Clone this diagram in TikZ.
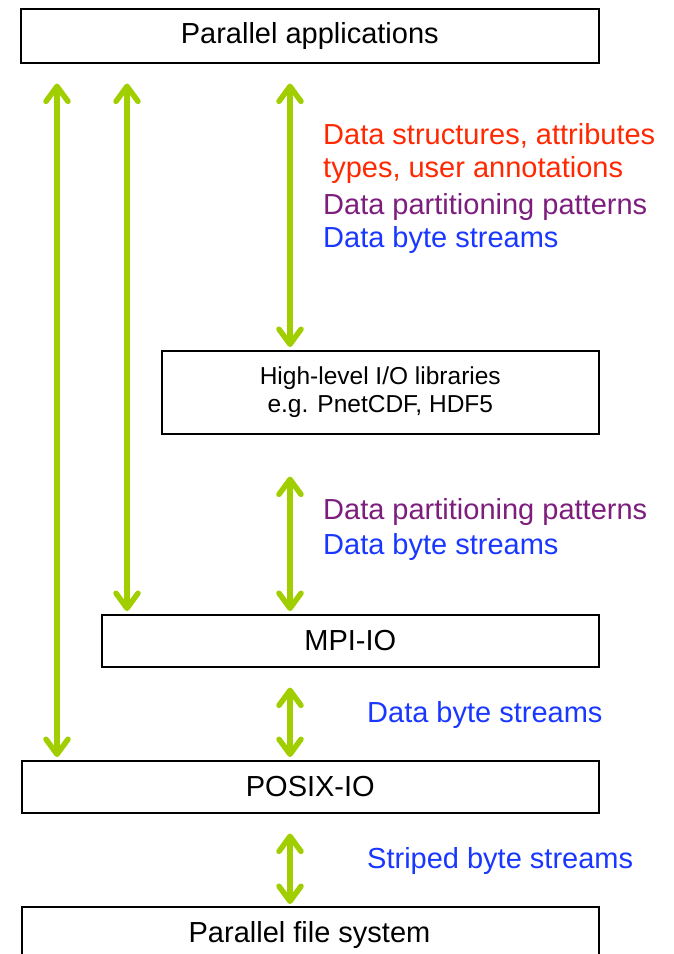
\documentclass[tikz,border=0pt]{standalone}
\usepackage{fontspec}
\setmainfont{Liberation Sans}
\usetikzlibrary{arrows.meta,positioning}
\definecolor{arrgreen}{RGB}{160,206,0}
\definecolor{lblred}{RGB}{255,40,0}
\definecolor{lblpurple}{RGB}{125,30,125}
\definecolor{lblblue}{RGB}{25,55,255}
\tikzset{
  layerbox/.style={draw=black,line width=1.6pt,fill=white,inner sep=0pt,anchor=north west,font=\fontsize{29}{34}\selectfont},
  arr/.style={draw=arrgreen,line width=5.5pt,{Straight Barb[length=15pt,width=22pt,line cap=round,line join=round]}-{Straight Barb[length=15pt,width=22pt,line cap=round,line join=round]}},
  lbl/.style={anchor=west,inner sep=0pt,font=\fontsize{29}{34}\selectfont,align=left}
}
\begin{document}
\begin{tikzpicture}[x=1pt,y=-1pt]
\useasboundingbox (0,0) rectangle (673,954);
\clip (0,0) rectangle (673,954);
\node[layerbox,minimum width=578pt,minimum height=54pt] (apps) at (20,8) {Parallel applications};
\node[layerbox,minimum width=437pt,minimum height=83pt,font=\fontsize{24.5}{28}\selectfont,align=center] (hl) at (161,350) {High-level I/O libraries\\e.g. PnetCDF, HDF5};
\node[layerbox,minimum width=497pt,minimum height=52pt] (mpi) at (101,614) {MPI-IO};
\node[layerbox,minimum width=577pt,minimum height=52pt] (posix) at (21,760) {POSIX-IO};
\node[layerbox,minimum width=577pt,minimum height=80pt,text depth=0pt] (pfs) at (21,906) {};
\node[font=\fontsize{29}{34}\selectfont,inner sep=0pt] (pfst) at (309.5,935) {Parallel file system};
\coordinate (c1) at (57,0);
\coordinate (c2) at (127,0);
\coordinate (c3) at (290,0);
\draw[arr,shorten <=20pt,shorten >=3pt] (apps.south -| c1) -- (posix.north -| c1);
\draw[arr,shorten <=20pt,shorten >=3pt] (apps.south -| c2) -- (mpi.north -| c2);
\draw[arr,shorten <=20pt,shorten >=3pt] (apps.south -| c3) -- (hl.north -| c3);
\draw[arr,shorten <=42pt,shorten >=3pt] (hl.south -| c3) -- (mpi.north -| c3);
\draw[arr,shorten <=20pt,shorten >=3pt] (mpi.south -| c3) -- (posix.north -| c3);
\draw[arr,shorten <=20pt,shorten >=2pt] (posix.south -| c3) -- (pfs.north -| c3);
\node[lbl,text=lblred] (l1) at (323,136) {Data structures, attributes};
\node[lbl,text=lblred] (l2) at (323,170) {types, user annotations};
\node[lbl,text=lblpurple] (l3) at (323,207) {Data partitioning patterns};
\node[lbl,text=lblblue] (l4) at (323,240) {Data byte streams};
\node[lbl,text=lblpurple] (l5) at (323,512) {Data partitioning patterns};
\node[lbl,text=lblblue] (l6) at (323,547) {Data byte streams};
\node[lbl,text=lblblue] (l7) at (367,715) {Data byte streams};
\node[lbl,text=lblblue] (l8) at (367,861) {Striped byte streams};
\end{tikzpicture}
\end{document}
